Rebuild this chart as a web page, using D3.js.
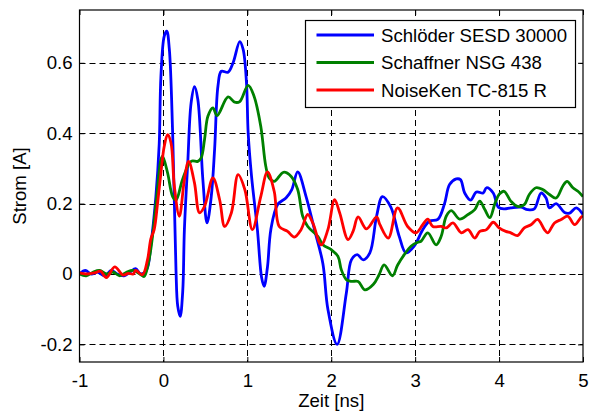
<!DOCTYPE html>
<html>
<head>
<meta charset="utf-8">
<script src="https://cdn.jsdelivr.net/npm/d3@7"></script>
<style>
  html, body { margin: 0; padding: 0; background: #fff; }
  svg { display: block; font-family: "Liberation Sans", Arial, sans-serif; }
</style>
</head>
<body>
<svg id="chart" width="595" height="416"></svg>
<script>
// ---- data ----
const seriesNames = ["Schlöder SESD 30000", "Schaffner NSG 438", "NoiseKen TC-815 R"];
const seriesColors = ["#0000ff", "#008000", "#ff0000"];

const tBlue = [-1, -0.93, -0.86, -0.78, -0.7, -0.62, -0.55, -0.47, -0.4, -0.33, -0.27, -0.2, -0.15, -0.09, -0.05, -0.03, 0.01, 0.04, 0.07, 0.11, 0.15, 0.17, 0.2, 0.23, 0.25, 0.29, 0.33, 0.37, 0.41, 0.47, 0.52, 0.57, 0.61, 0.65, 0.69, 0.77, 0.83, 0.91, 0.95, 0.99, 1.01, 1.05, 1.12, 1.17, 1.2, 1.24, 1.28, 1.36, 1.46, 1.53, 1.6, 1.7, 1.8, 1.9, 1.96, 2.07, 2.18, 2.24, 2.31, 2.38, 2.46, 2.54, 2.61, 2.71, 2.81, 2.89, 2.99, 3.09, 3.17, 3.27, 3.35, 3.41, 3.49, 3.54, 3.59, 3.66, 3.73, 3.81, 3.85, 3.93, 3.99, 4.06, 4.14, 4.26, 4.34, 4.42, 4.5, 4.56, 4.6, 4.68, 4.78, 4.84, 4.92, 5.0];
const vBlue = [0.0, 0.01, 0.0, 0.005, -0.005, 0.01, 0.0, -0.005, 0.005, 0.015, 0.0, 0.012, 0.083, 0.22, 0.37, 0.56, 0.676, 0.69, 0.64, 0.40, 0.01, -0.09, -0.12, -0.05, 0.126, 0.316, 0.486, 0.532, 0.496, 0.268, 0.145, 0.22, 0.354, 0.534, 0.576, 0.573, 0.60, 0.66, 0.638, 0.543, 0.40, 0.278, 0.126, -0.01, -0.035, 0.02, 0.126, 0.197, 0.216, 0.24, 0.29, 0.22, 0.126, 0.03, -0.1, -0.2, -0.054, 0.04, 0.055, 0.04, 0.06, 0.164, 0.22, 0.19, 0.107, 0.06, 0.08, 0.126, 0.15, 0.155, 0.2, 0.254, 0.27, 0.268, 0.23, 0.21, 0.233, 0.23, 0.245, 0.23, 0.19, 0.185, 0.188, 0.19, 0.183, 0.185, 0.23, 0.216, 0.188, 0.2, 0.175, 0.173, 0.188, 0.169];

const tGreen = [-1, -0.92, -0.84, -0.76, -0.68, -0.6, -0.52, -0.44, -0.36, -0.28, -0.23, -0.18, -0.14, -0.08, -0.03, -0.01, 0.05, 0.11, 0.15, 0.23, 0.33, 0.41, 0.45, 0.49, 0.53, 0.59, 0.64, 0.77, 0.85, 0.91, 1.01, 1.08, 1.16, 1.22, 1.26, 1.32, 1.43, 1.52, 1.6, 1.66, 1.72, 1.84, 1.9, 2.0, 2.08, 2.12, 2.18, 2.24, 2.32, 2.4, 2.5, 2.57, 2.63, 2.73, 2.79, 2.87, 2.95, 3.03, 3.07, 3.15, 3.25, 3.31, 3.37, 3.43, 3.53, 3.63, 3.71, 3.77, 3.83, 3.89, 3.95, 4.0, 4.06, 4.14, 4.22, 4.3, 4.36, 4.44, 4.52, 4.6, 4.68, 4.76, 4.81, 4.88, 4.94, 5.0];
const vGreen = [0.0, -0.005, 0.005, 0.01, 0.0, 0.005, -0.005, 0.005, 0.01, 0.0, -0.007, 0.03, 0.088, 0.22, 0.325, 0.335, 0.287, 0.22, 0.21, 0.27, 0.32, 0.32, 0.33, 0.382, 0.448, 0.472, 0.45, 0.503, 0.488, 0.49, 0.536, 0.505, 0.42, 0.306, 0.273, 0.263, 0.289, 0.278, 0.24, 0.164, 0.135, 0.107, 0.083, 0.069, 0.05, 0.012, -0.016, -0.021, -0.021, -0.045, -0.03, -0.002, 0.026, -0.005, 0.025, 0.055, 0.079, 0.09, 0.093, 0.117, 0.083, 0.107, 0.164, 0.18, 0.156, 0.169, 0.183, 0.207, 0.183, 0.16, 0.2, 0.226, 0.235, 0.207, 0.192, 0.197, 0.226, 0.245, 0.24, 0.226, 0.216, 0.25, 0.263, 0.245, 0.235, 0.22];

const tRed = [-1, -0.92, -0.82, -0.75, -0.68, -0.58, -0.48, -0.42, -0.36, -0.33, -0.25, -0.19, -0.15, -0.11, -0.07, -0.03, 0.01, 0.05, 0.09, 0.13, 0.19, 0.25, 0.3, 0.37, 0.43, 0.49, 0.59, 0.67, 0.73, 0.81, 0.89, 0.97, 1.06, 1.16, 1.24, 1.32, 1.38, 1.48, 1.56, 1.64, 1.72, 1.78, 1.88, 1.96, 2.04, 2.1, 2.2, 2.26, 2.32, 2.42, 2.54, 2.58, 2.68, 2.79, 2.91, 3.01, 3.09, 3.15, 3.21, 3.31, 3.37, 3.45, 3.55, 3.63, 3.71, 3.77, 3.85, 3.93, 4.0, 4.08, 4.14, 4.22, 4.3, 4.38, 4.46, 4.54, 4.58, 4.66, 4.74, 4.82, 4.9, 4.98, 5.0];
const vRed = [0.003, 0.0, 0.003, 0.008, -0.01, 0.02, -0.003, 0.002, 0.0, 0.01, -0.002, 0.04, 0.1, 0.126, 0.2, 0.287, 0.363, 0.396, 0.373, 0.25, 0.164, 0.268, 0.32, 0.259, 0.174, 0.192, 0.273, 0.211, 0.135, 0.174, 0.282, 0.24, 0.126, 0.22, 0.29, 0.235, 0.135, 0.121, 0.105, 0.126, 0.169, 0.145, 0.083, 0.126, 0.211, 0.174, 0.098, 0.121, 0.162, 0.128, 0.162, 0.14, 0.102, 0.188, 0.135, 0.117, 0.14, 0.156, 0.135, 0.135, 0.131, 0.145, 0.117, 0.126, 0.102, 0.121, 0.126, 0.147, 0.131, 0.121, 0.117, 0.109, 0.131, 0.14, 0.155, 0.126, 0.117, 0.145, 0.155, 0.164, 0.14, 0.162, 0.165];

const xTicks = [-1, 0, 1, 2, 3, 4, 5];
const yTicks = [-0.2, 0, 0.2, 0.4, 0.6];
const xLabel = "Zeit [ns]";
const yLabel = "Strom [A]";

// ---- drawing ----
const svg = d3.select("#chart");
const L = 79.5, R = 583, T = 10, B = 362;
const x = d3.scaleLinear().domain([-1, 5]).range([L, R]);
const y = d3.scaleLinear().domain([-0.25, 0.75]).range([B, T]);
const fs = 18.6;
const fmtX = d => String(d);
const fmtY = d => d === 0 ? "0" : d.toFixed(1);

// grid
const grid = svg.append("g").attr("stroke", "#000").attr("stroke-width", 1).attr("stroke-dasharray", "6,4");
xTicks.filter(d => d > -1 && d < 5).forEach(d => {
  grid.append("line").attr("x1", Math.round(x(d)) + 0.5).attr("x2", Math.round(x(d)) + 0.5).attr("y1", T).attr("y2", B);
});
yTicks.forEach(d => {
  grid.append("line").attr("y1", Math.round(y(d)) + 0.5).attr("y2", Math.round(y(d)) + 0.5).attr("x1", L).attr("x2", R);
});

// axes (ticks inward)
const tl = 5;
svg.append("g").attr("transform", `translate(0,${B})`)
  .call(d3.axisBottom(x).tickValues(xTicks).tickSizeInner(-tl).tickSizeOuter(0).tickPadding(12).tickFormat(fmtX))
  .call(g => g.select(".domain").remove());
svg.append("g").attr("transform", `translate(0,${T})`)
  .call(d3.axisTop(x).tickValues(xTicks).tickSizeInner(-tl).tickSizeOuter(0).tickFormat(""))
  .call(g => g.select(".domain").remove());
svg.append("g").attr("transform", `translate(${L},0)`)
  .call(d3.axisLeft(y).tickValues(yTicks).tickSizeInner(-tl).tickSizeOuter(0).tickPadding(7).tickFormat(fmtY))
  .call(g => g.select(".domain").remove());
svg.append("g").attr("transform", `translate(${R},0)`)
  .call(d3.axisRight(y).tickValues(yTicks).tickSizeInner(-tl).tickSizeOuter(0).tickFormat(""))
  .call(g => g.select(".domain").remove());
svg.selectAll(".tick line").attr("stroke", "#000");
svg.selectAll(".tick text").attr("font-size", fs).attr("fill", "#000").attr("font-family", "Liberation Sans, Arial, sans-serif");

// lines
svg.append("clipPath").attr("id", "clip").append("rect").attr("x", L).attr("y", T).attr("width", R - L).attr("height", B - T);
const lineGen = d3.line().x(d => x(d[0])).y(d => y(d[1])).curve(d3.curveCatmullRom.alpha(0.5));
const series = [
  d3.zip(tBlue, vBlue),
  d3.zip(tGreen, vGreen),
  d3.zip(tRed, vRed)
];
const plot = svg.append("g").attr("clip-path", "url(#clip)");
series.forEach((s, i) => {
  plot.append("path").datum(s).attr("d", lineGen).attr("fill", "none")
    .attr("stroke", seriesColors[i]).attr("stroke-width", 2.8).attr("stroke-linejoin", "round");
});

// frame
svg.append("rect").attr("x", L).attr("y", T).attr("width", R - L).attr("height", B - T)
  .attr("fill", "none").attr("stroke", "#000").attr("stroke-width", 1.2);

// axis labels
svg.append("text").attr("x", (L + R) / 2).attr("y", 407).attr("text-anchor", "middle")
  .attr("font-size", fs).text(xLabel);
svg.append("text").attr("transform", `translate(26,${(T + B) / 2}) rotate(-90)`).attr("text-anchor", "middle")
  .attr("font-size", fs).text(yLabel);

// legend
const lg = svg.append("g");
lg.append("rect").attr("x", 305.5).attr("y", 20.5).attr("width", 270).attr("height", 87)
  .attr("fill", "#fff").attr("stroke", "#000").attr("stroke-width", 1.2);
const rowY = [35, 62.5, 90];
seriesNames.forEach((n, i) => {
  lg.append("line").attr("x1", 316.5).attr("x2", 374).attr("y1", rowY[i]).attr("y2", rowY[i])
    .attr("stroke", seriesColors[i]).attr("stroke-width", 2.8);
  lg.append("text").attr("x", 381).attr("y", rowY[i]).attr("dy", "0.36em")
    .attr("font-size", fs).text(n);
});
</script>
</body>
</html>
